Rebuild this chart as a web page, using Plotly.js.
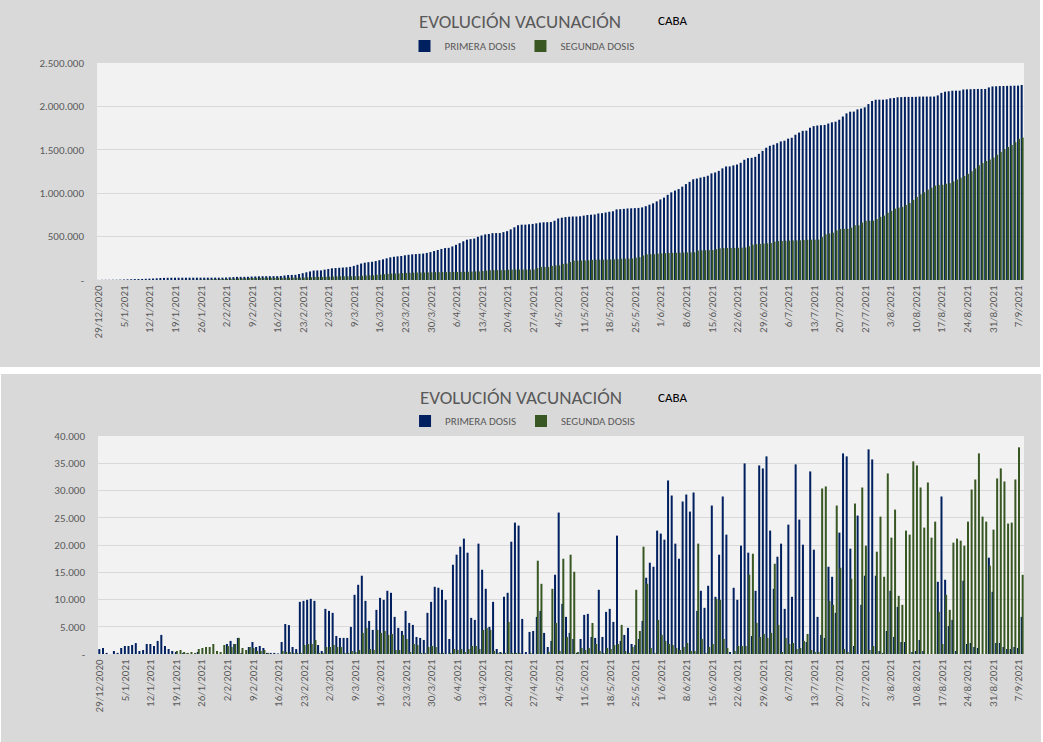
<!DOCTYPE html>
<html>
<head>
<meta charset="utf-8">
<script src="https://cdn.plot.ly/plotly-3.0.1.min.js"></script>
<style>
  html, body { margin: 0; padding: 0; background: #ffffff; width: 1043px; height: 742px; overflow: hidden; }
  #top { position: absolute; left: 0; top: 0; width: 1040px; height: 367px; }
  #bottom { position: absolute; left: 1px; top: 374px; width: 1040px; height: 368px; }
</style>
</head>
<body>
<div id="top"></div>
<div id="bottom"></div>
<script>
// ---- DATA ----
const startDate = "29/12/2020";   // first day of the series (254 daily categories)
const dayCount = 254;

// Daily doses, first dose (PRIMERA DOSIS), one value per day from 29/12/2020
const primeraDiaria = [
  900,1100,200,0,550,200,1100,1470,1470,1650,2000,550,740,1840,1840,1470,2400,3500,1470,920,
  550,370,0,200,100,0,0,370,0,0,0,0,0,0,0,1840,2400,1840,2950,200,
  0,1290,2200,1290,1470,1100,200,200,200,100,2200,5500,5300,1290,900,9570,9750,9940,10120,9750,
  1650,550,8280,7910,7550,3310,2950,2950,2950,4970,10860,12700,14360,9750,6070,4420,8100,10300,9940,11600,
  11230,6810,4790,4230,7910,5700,5340,3130,2950,2580,7550,9570,12330,12150,11780,9940,2760,16380,18220,19690,
  21170,18590,6630,6260,20250,15460,11960,4970,9570,920,370,10490,11230,20610,24110,23560,6440,370,4050,4230,
  6810,7910,3870,1290,2400,14540,25950,9200,6810,3870,2760,200,2760,7180,7360,3130,2950,11780,3130,7730,
  8280,5890,21720,2400,3500,4790,1840,1650,2760,6070,13990,16750,16010,22640,22090,20980,31840,29080,20250,17480,
  27980,29260,26130,29630,7910,11600,8470,12520,27240,10490,18220,28900,21900,370,12150,9940,19880,34970,18590,3310,
  11600,34600,34050,36260,22640,11960,17850,20250,8280,23740,10490,34790,24660,20060,2200,33500,19140,6810,3500,2950,
  16010,14170,7550,22270,36810,36260,19330,1470,25400,9020,14360,37550,35700,14360,550,200,4230,11600,3130,8650,
  2200,2200,0,370,550,2580,550,0,0,0,13250,28900,13620,5150,6260,550,0,13440,1840,2020,
  1290,1100,0,0,17670,11410,2020,2020,1290,920,920,1290,1100,6810
];

// Daily doses, second dose (SEGUNDA DOSIS)
const segundaDiaria = [
  0,0,0,0,0,0,0,0,0,0,0,0,0,0,0,0,0,0,0,0,
  0,550,740,370,200,370,200,920,1100,1290,1290,1840,550,370,1650,1470,1290,1840,2950,1100,
  740,1290,1100,550,550,740,200,0,0,0,550,370,370,200,200,200,1650,1840,1840,2580,
  200,200,1290,1290,1650,1290,1290,200,200,550,370,740,3870,4790,920,740,4420,3870,4230,3500,
  3680,740,740,3500,2760,370,1840,1650,200,200,1290,1470,1290,200,200,0,200,920,740,920,
  370,920,1470,1470,920,4420,4790,4420,550,200,200,200,5890,200,200,200,0,0,200,0,
  17120,12880,0,370,11960,5700,550,17480,3130,18220,15090,370,1100,740,1100,5700,1840,550,200,1100,
  920,1650,1840,5340,550,200,1290,11780,4230,19690,12880,1100,200,6260,3500,2400,1840,1650,1100,740,
  1290,2020,550,550,20250,2760,200,1290,1840,10120,9940,2760,1100,0,550,1470,1470,1470,14540,18400,
  5700,3130,3680,2950,3870,16560,5340,370,2950,1840,2020,920,1100,2400,3680,740,370,370,30370,30740,
  9750,9020,27240,15830,920,370,13800,27610,0,30550,19880,740,1470,18770,25210,14170,33130,21350,26500,10670,
  9020,22640,21900,35340,34600,30550,23190,31470,21350,24290,7730,1840,10860,8100,20430,21170,20800,19880,24290,30180,
  32020,36810,25210,24290,16200,22820,32210,34050,31660,23930,24110,32020,37920,14540
];

// Weekly x tick labels
const xTickLabels = [
  "29/12/2020","5/1/2021","12/1/2021","19/1/2021","26/1/2021","2/2/2021","9/2/2021","16/2/2021",
  "23/2/2021","2/3/2021","9/3/2021","16/3/2021","23/3/2021","30/3/2021","6/4/2021","13/4/2021",
  "20/4/2021","27/4/2021","4/5/2021","11/5/2021","18/5/2021","25/5/2021","1/6/2021","8/6/2021",
  "15/6/2021","22/6/2021","29/6/2021","6/7/2021","13/7/2021","20/7/2021","27/7/2021","3/8/2021",
  "10/8/2021","17/8/2021","24/8/2021","31/8/2021","7/9/2021"
];

// Y tick values / labels
const yTopVals = [0, 500000, 1000000, 1500000, 2000000, 2500000];
const yTopText = ["-", "500.000", "1.000.000", "1.500.000", "2.000.000", "2.500.000"];
const yBotVals = [0, 5000, 10000, 15000, 20000, 25000, 30000, 35000, 40000];
const yBotText = ["-", "5.000", "10.000", "15.000", "20.000", "25.000", "30.000", "35.000", "40.000"];

const titleText = "EVOLUCIÓN VACUNACIÓN";
const subtitleText = "CABA";
const nameFirst = "PRIMERA DOSIS";
const nameSecond = "SEGUNDA DOSIS";

// ---- derived: day categories and accumulated totals (top chart) ----
function buildDays(start, n) {
  const p = start.split("/").map(Number);
  const out = [];
  for (let i = 0; i < n; i++) {
    const d = new Date(Date.UTC(p[2], p[1] - 1, p[0] + i));
    out.push(d.getUTCDate() + "/" + (d.getUTCMonth() + 1) + "/" + d.getUTCFullYear());
  }
  return out;
}
function accumulate(arr) {
  let s = 0;
  return arr.map(v => (s += v));
}
const days = buildDays(startDate, dayCount);
const primeraAcum = accumulate(primeraDiaria);
const segundaAcum = accumulate(segundaDiaria);

// ---- styling ----
const FONT = "Carlito, 'Liberation Sans Narrow', 'Liberation Sans', Arial, sans-serif";
const BLUE = "#002060";
const GREEN = "#385723";
const GREY_TXT = "#595959";

function traces(yFirst, ySecond) {
  return [
    { type: "bar", x: days, y: yFirst, name: nameFirst, marker: { color: BLUE, line: { width: 0 } },
      width: 0.55, offset: -0.41 },
    { type: "bar", x: days, y: ySecond, name: nameSecond, marker: { color: GREEN, line: { width: 0 } },
      width: 0.55, offset: -0.14 }
  ];
}

function layout(h, t, b, r, titleY, legendY, yMax, yVals, yText) {
  const plotH = h - t - b;
  return {
    width: 1040, height: h,
    margin: { l: 97, r: r, t: t, b: b, pad: 0 },
    paper_bgcolor: "#d9d9d9",
    plot_bgcolor: "#f2f2f2",
    barmode: "overlay",
    showlegend: true,
    font: { family: FONT, color: GREY_TXT, size: 11 },
    title: {
      text: titleText,
      font: { family: FONT, size: 19, color: GREY_TXT },
      x: 0.5, xanchor: "center", xref: "container",
      y: 1 - titleY / h, yanchor: "middle", yref: "container"
    },
    annotations: [{
      text: subtitleText, xref: "paper", yref: "paper",
      x: (672 - 97) / 927, y: 1 + (t - titleY) / plotH,
      xanchor: "center", yanchor: "middle", showarrow: false,
      font: { family: FONT, size: 13, color: "#000000" }
    }],
    legend: {
      orientation: "h", x: (522 - 97) / 927, xanchor: "center",
      y: 1 + (t - legendY) / plotH, yanchor: "middle",
      font: { family: FONT, size: 11, color: GREY_TXT },
      bgcolor: "rgba(0,0,0,0)", itemwidth: 30, traceorder: "normal",
      itemclick: false, itemdoubleclick: false
    },
    xaxis: {
      type: "category",
      categoryorder: "array", categoryarray: days,
      tickmode: "array", tickvals: xTickLabels, ticktext: xTickLabels,
      tickangle: -90, ticks: "", showgrid: false, zeroline: false,
      showline: true, linecolor: "#d9d9d9", linewidth: 1,
      tickfont: { family: FONT, size: 11, color: GREY_TXT },
      range: [-0.5, dayCount - 0.5], fixedrange: true
    },
    yaxis: {
      range: [0, yMax], tickmode: "array", tickvals: yVals, ticktext: yText,
      showgrid: true, gridcolor: "#d9d9d9", gridwidth: 1,
      zeroline: false, showline: false, ticks: "",
      ticklabelstandoff: 12,
      tickfont: { family: FONT, size: 11, color: GREY_TXT },
      fixedrange: true
    },
    hovermode: false
  };
}

const cfg = { staticPlot: true, displayModeBar: false };

Plotly.newPlot("top", traces(primeraAcum, segundaAcum),
  layout(367, 63, 87, 16, 21, 46, 2500000, yTopVals, yTopText), cfg);

Plotly.newPlot("bottom", traces(primeraDiaria, segundaDiaria),
  layout(368, 62, 88, 17, 23, 47, 40000, yBotVals, yBotText), cfg);
</script>
</body>
</html>
